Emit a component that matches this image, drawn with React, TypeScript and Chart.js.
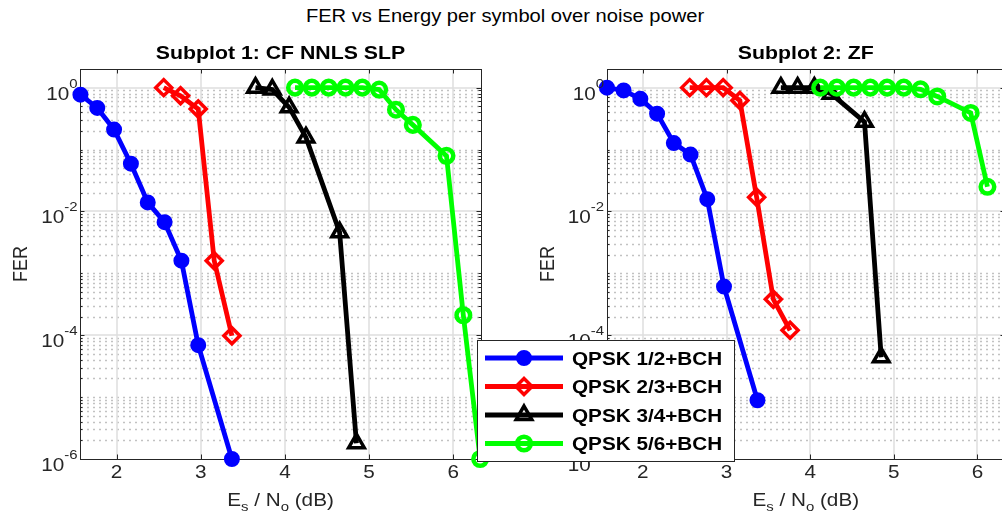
import React, { useEffect, useRef } from 'react';
import { Chart, registerables } from 'chart.js';
import { drawPoint } from 'chart.js/helpers';

Chart.register(...registerables);

// ---------- text ----------
const suptitle = 'FER vs Energy per symbol over noise power';
const subplotTitles = ['Subplot 1: CF NNLS SLP', 'Subplot 2: ZF'];
const seriesLabels = ['QPSK 1/2+BCH', 'QPSK 2/3+BCH', 'QPSK 3/4+BCH', 'QPSK 5/6+BCH'];

// ---------- data: subplot 1 (CF NNLS SLP) ----------
const esnoBlue1 = [1.57, 1.77, 1.97, 2.17, 2.37, 2.57, 2.77, 2.97, 3.37];
const ferBlue1 = [0.77, 0.47, 0.21, 0.059, 0.014, 0.0067, 0.0016, 6.9e-5, 1e-6];
const esnoRed1 = [2.56, 2.76, 2.97, 3.16, 3.37];
const ferRed1 = [1.0, 0.74, 0.45, 0.0016, 9.8e-5];
const esnoBlack1 = [3.65, 3.85, 4.05, 4.25, 4.65, 4.85];
const ferBlack1 = [1.0, 0.93, 0.48, 0.157, 0.0046, 1.8e-6];
const esnoGreen1 = [4.12, 4.32, 4.52, 4.72, 4.92, 5.12, 5.32, 5.52, 5.92, 6.12, 6.32];
const ferGreen1 = [1, 1, 1, 1, 1, 0.93, 0.44, 0.25, 0.079, 2.1e-4, 1e-6];

// ---------- data: subplot 2 (ZF) ----------
const esnoBlue2 = [1.57, 1.77, 1.97, 2.17, 2.37, 2.57, 2.77, 2.97, 3.37];
const ferBlue2 = [1.0, 0.9, 0.66, 0.38, 0.127, 0.083, 0.0158, 6.1e-4, 8.9e-6];
const esnoRed2 = [2.56, 2.76, 2.96, 3.16, 3.36, 3.56, 3.76];
const ferRed2 = [1, 1, 1, 0.62, 0.017, 3.8e-4, 1.2e-4];
const esnoBlack2 = [3.65, 3.85, 4.05, 4.25, 4.65, 4.85];
const ferBlack2 = [1.0, 1.0, 1.0, 0.8, 0.28, 4.4e-5];
const esnoGreen2 = [4.12, 4.32, 4.52, 4.72, 4.92, 5.12, 5.32, 5.52, 5.92, 6.12];
const ferGreen2 = [1, 1, 1, 1, 1, 1, 0.94, 0.72, 0.39, 0.025];

// ---------- axes ----------
const xTicks = [2, 3, 4, 5, 6];
const yTickExponents = [0, -2, -4, -6];
const X_MIN = 1.565;
const X_MAX = 6.33;
const Y_MIN = 1e-6;
const Y_MAX = 2;

// ---------- styling ----------
const SX = 1.15; // horizontal stretch of the original figure's text
const FAMILY = '"Liberation Sans", Arial, Helvetica, sans-serif';
const AXIS_COLOR = '#262626';
const H = 527;
const PLOT_TOP = 69;
const PLOT_BOTTOM = 459;
const LINE_W = 4.8;

const seriesStyles = [
  { color: '#0000ff', pointStyle: 'circle', radius: 6.5, borderWidth: 3, filled: true },
  { color: '#ff0000', pointStyle: 'rectRot', radius: 8, borderWidth: 3.5, filled: false },
  { color: '#000000', pointStyle: 'triangle', radius: 9, borderWidth: 3.5, filled: false },
  { color: '#00ff00', pointStyle: 'circle', radius: 6.8, borderWidth: 4.5, filled: false },
];

function drawText(ctx: any, text: string, x: number, y: number, font: string, align: string, color: string) {
  ctx.save();
  ctx.font = font;
  ctx.fillStyle = color;
  ctx.textAlign = 'left';
  ctx.textBaseline = 'alphabetic';
  const w = ctx.measureText(text).width * SX;
  const x0 = align === 'right' ? x - w : align === 'center' ? x - w / 2 : x;
  ctx.translate(x0, y);
  ctx.scale(SX, 1);
  ctx.fillText(text, 0, 0);
  ctx.restore();
  return w;
}

function measure(ctx: any, text: string, font: string) {
  ctx.save();
  ctx.font = font;
  const w = ctx.measureText(text).width * SX;
  ctx.restore();
  return w;
}

function makeAxesPlugin(title: string, legendBox: any) {
  return {
    id: 'matlabAxes',
    beforeDatasetsDraw(chart: any) {
      const { ctx, chartArea: a, scales } = chart;
      const xs = scales.x;
      const ys = scales.y;
      const L = Math.round(a.left);
      const R = Math.round(a.right);
      const T = Math.round(a.top);
      const B = Math.round(a.bottom);
      ctx.save();
      // minor (dotted) horizontal grid
      ctx.strokeStyle = '#c2c2c2';
      ctx.lineWidth = 1.4;
      ctx.setLineDash([2, 4]);
      const minorVals: number[] = [];
      for (let k = -6; k <= 0; k++) {
        for (let m = 1; m <= 9; m++) {
          const v = m * Math.pow(10, k);
          if (v >= Y_MAX || v <= Y_MIN) continue;
          if (m === 1 && yTickExponents.includes(k)) continue;
          minorVals.push(v);
          const py = Math.round(ys.getPixelForValue(v)) + 0.5;
          ctx.beginPath();
          ctx.moveTo(L + 1, py);
          ctx.lineTo(R, py);
          ctx.stroke();
        }
      }
      ctx.setLineDash([]);
      // major grid
      ctx.strokeStyle = '#dedede';
      ctx.lineWidth = 1.5;
      xTicks.forEach((t) => {
        const px = Math.round(xs.getPixelForValue(t));
        ctx.beginPath();
        ctx.moveTo(px, T);
        ctx.lineTo(px, B);
        ctx.stroke();
      });
      yTickExponents.forEach((e) => {
        const v = Math.pow(10, e);
        if (v <= Y_MIN) return;
        const py = Math.round(ys.getPixelForValue(v));
        ctx.beginPath();
        ctx.moveTo(L, py);
        ctx.lineTo(R, py);
        ctx.stroke();
      });
      // box
      ctx.strokeStyle = AXIS_COLOR;
      ctx.lineWidth = 1;
      ctx.strokeRect(L + 0.5, T + 0.5, R - L, B - T);
      // ticks
      ctx.beginPath();
      xTicks.forEach((t) => {
        const px = Math.round(xs.getPixelForValue(t)) + 0.5;
        ctx.moveTo(px, B);
        ctx.lineTo(px, B - 4.5);
        ctx.moveTo(px, T);
        ctx.lineTo(px, T + 4.5);
      });
      yTickExponents.forEach((e) => {
        const py = Math.round(ys.getPixelForValue(Math.pow(10, e))) + 0.5;
        ctx.moveTo(L, py);
        ctx.lineTo(L + 4.5, py);
        ctx.moveTo(R, py);
        ctx.lineTo(R - 4.5, py);
      });
      minorVals.forEach((v) => {
        const py = Math.round(ys.getPixelForValue(v)) + 0.5;
        ctx.moveTo(L, py);
        ctx.lineTo(L + 2.5, py);
        ctx.moveTo(R, py);
        ctx.lineTo(R - 2.5, py);
      });
      ctx.stroke();
      ctx.restore();
    },
    afterDraw(chart: any) {
      const { ctx, chartArea: a, scales } = chart;
      const xs = scales.x;
      const ys = scales.y;
      const tickFont = `18px ${FAMILY}`;
      const expFont = `13px ${FAMILY}`;
      // x tick labels
      xTicks.forEach((t) => {
        drawText(ctx, String(t), xs.getPixelForValue(t), a.bottom + 19, tickFont, 'center', AXIS_COLOR);
      });
      // y tick labels 10^e
      yTickExponents.forEach((e) => {
        const py = ys.getPixelForValue(Math.pow(10, e));
        const expStr = e === 0 ? '0' : '-' + Math.abs(e);
        const right = a.left - 2.5;
        const ew = measure(ctx, expStr, expFont);
        drawText(ctx, expStr, right - ew, py, expFont, 'left', AXIS_COLOR);
        drawText(ctx, '10', right - ew, py + 12, tickFont, 'right', AXIS_COLOR);
      });
      // x axis label: E_s / N_o (dB)
      const cx = (a.left + a.right) / 2;
      const mainFont = `18px ${FAMILY}`;
      const subFont = `13px ${FAMILY}`;
      const parts = [
        { t: 'E', f: mainFont, dy: 0 },
        { t: 's', f: subFont, dy: 4.5 },
        { t: ' / N', f: mainFont, dy: 0 },
        { t: 'o', f: subFont, dy: 4.5 },
        { t: ' (dB)', f: mainFont, dy: 0 },
      ];
      const total = parts.reduce((s, p) => s + measure(ctx, p.t, p.f), 0);
      let xx = cx - total / 2;
      const base = a.bottom + 47;
      parts.forEach((p) => {
        xx += drawText(ctx, p.t, xx, base + p.dy, p.f, 'left', AXIS_COLOR);
      });
      // y axis label: FER (rotated)
      ctx.save();
      ctx.translate(a.left - 60, (a.top + a.bottom) / 2);
      ctx.rotate(-Math.PI / 2);
      ctx.scale(1, SX);
      ctx.font = mainFont;
      ctx.fillStyle = AXIS_COLOR;
      ctx.textAlign = 'center';
      ctx.textBaseline = 'alphabetic';
      ctx.fillText('FER', 0, 6.5);
      ctx.restore();
      // subplot title
      drawText(ctx, title, cx, 59, `bold 18.5px ${FAMILY}`, 'center', '#000');
      // legend
      if (legendBox) {
        const lb = legendBox;
        ctx.save();
        ctx.fillStyle = '#ffffff';
        ctx.fillRect(lb.x, lb.y, lb.w, lb.h);
        ctx.strokeStyle = AXIS_COLOR;
        ctx.lineWidth = 1;
        ctx.strokeRect(lb.x + 0.5, lb.y + 0.5, lb.w - 1, lb.h - 1);
        chart.data.datasets.forEach((ds: any, i: number) => {
          const st = seriesStyles[i];
          const ry = lb.y + 18 + i * 28.5;
          ctx.strokeStyle = st.color;
          ctx.lineWidth = LINE_W;
          ctx.beginPath();
          ctx.moveTo(lb.x + 8, ry);
          ctx.lineTo(lb.x + 86, ry);
          ctx.stroke();
          ctx.fillStyle = st.filled ? st.color : 'rgba(0,0,0,0)';
          ctx.strokeStyle = st.color;
          ctx.lineWidth = st.borderWidth;
          drawPoint(ctx, { pointStyle: st.pointStyle, radius: st.radius, borderWidth: st.borderWidth, rotation: 0 } as any, lb.x + 47, ry);
          drawText(ctx, ds.label, lb.x + 95, ry + 6.5, `bold 18px ${FAMILY}`, 'left', '#000');
        });
        ctx.restore();
      }
    },
  };
}

function buildDatasets(series: Array<[number[], number[]]>) {
  return series.map(([xs, ys], i) => {
    const st = seriesStyles[i];
    return {
      label: seriesLabels[i],
      data: xs.map((x, j) => ({ x, y: ys[j] })),
      borderColor: st.color,
      backgroundColor: st.color,
      borderWidth: LINE_W,
      pointStyle: st.pointStyle,
      pointRadius: st.radius,
      pointBorderWidth: st.borderWidth,
      pointBorderColor: st.color,
      pointBackgroundColor: st.filled ? st.color : 'rgba(0,0,0,0)',
      tension: 0,
      clip: false,
      order: 3 - i,
    };
  });
}

function Subplot(props: { left: number; width: number; plotLeft: number; plotRight: number; title: string; series: Array<[number[], number[]]>; legendBox: any }) {
  const ref = useRef<HTMLCanvasElement | null>(null);
  useEffect(() => {
    if (!ref.current) return;
    const chart = new Chart(ref.current, {
      type: 'line',
      data: { datasets: buildDatasets(props.series) as any },
      options: {
        animation: false,
        responsive: false,
        devicePixelRatio: 1,
        events: [],
        layout: {
          padding: {
            left: props.plotLeft - props.left,
            right: props.left + props.width - props.plotRight,
            top: PLOT_TOP,
            bottom: H - PLOT_BOTTOM,
          },
        },
        scales: {
          x: { type: 'linear', min: X_MIN, max: X_MAX, display: false },
          y: { type: 'logarithmic', min: Y_MIN, max: Y_MAX, display: false },
        },
        plugins: { legend: { display: false }, tooltip: { enabled: false }, title: { display: false } },
      } as any,
      plugins: [makeAxesPlugin(props.title, props.legendBox) as any],
    });
    return () => chart.destroy();
  }, []);
  return (
    <canvas
      ref={ref}
      width={props.width}
      height={H}
      style={{ position: 'absolute', left: props.left, top: 0, width: props.width, height: H }}
    />
  );
}

export default function App() {
  return (
    <div style={{ position: 'fixed', left: 0, top: 0, width: 1002, height: H, overflow: 'hidden', background: '#fff' }}>
      <div
        style={{
          position: 'absolute',
          left: 5,
          top: 6,
          width: 1000,
          textAlign: 'center',
          font: `17.5px ${FAMILY}`,
          lineHeight: '20px',
          color: '#000',
          whiteSpace: 'nowrap',
          transform: `scaleX(${SX})`,
        }}
      >
        {suptitle}
      </div>
      <Subplot
        left={0}
        width={540}
        plotLeft={80}
        plotRight={481}
        title={subplotTitles[0]}
        series={[[esnoBlue1, ferBlue1], [esnoRed1, ferRed1], [esnoBlack1, ferBlack1], [esnoGreen1, ferGreen1]]}
        legendBox={null}
      />
      <Subplot
        left={470}
        width={550}
        plotLeft={606.5}
        plotRight={1005}
        title={subplotTitles[1]}
        series={[[esnoBlue2, ferBlue2], [esnoRed2, ferRed2], [esnoBlack2, ferBlack2], [esnoGreen2, ferGreen2]]}
        legendBox={{ x: 7, y: 340, w: 258, h: 122 }}
      />
    </div>
  );
}
